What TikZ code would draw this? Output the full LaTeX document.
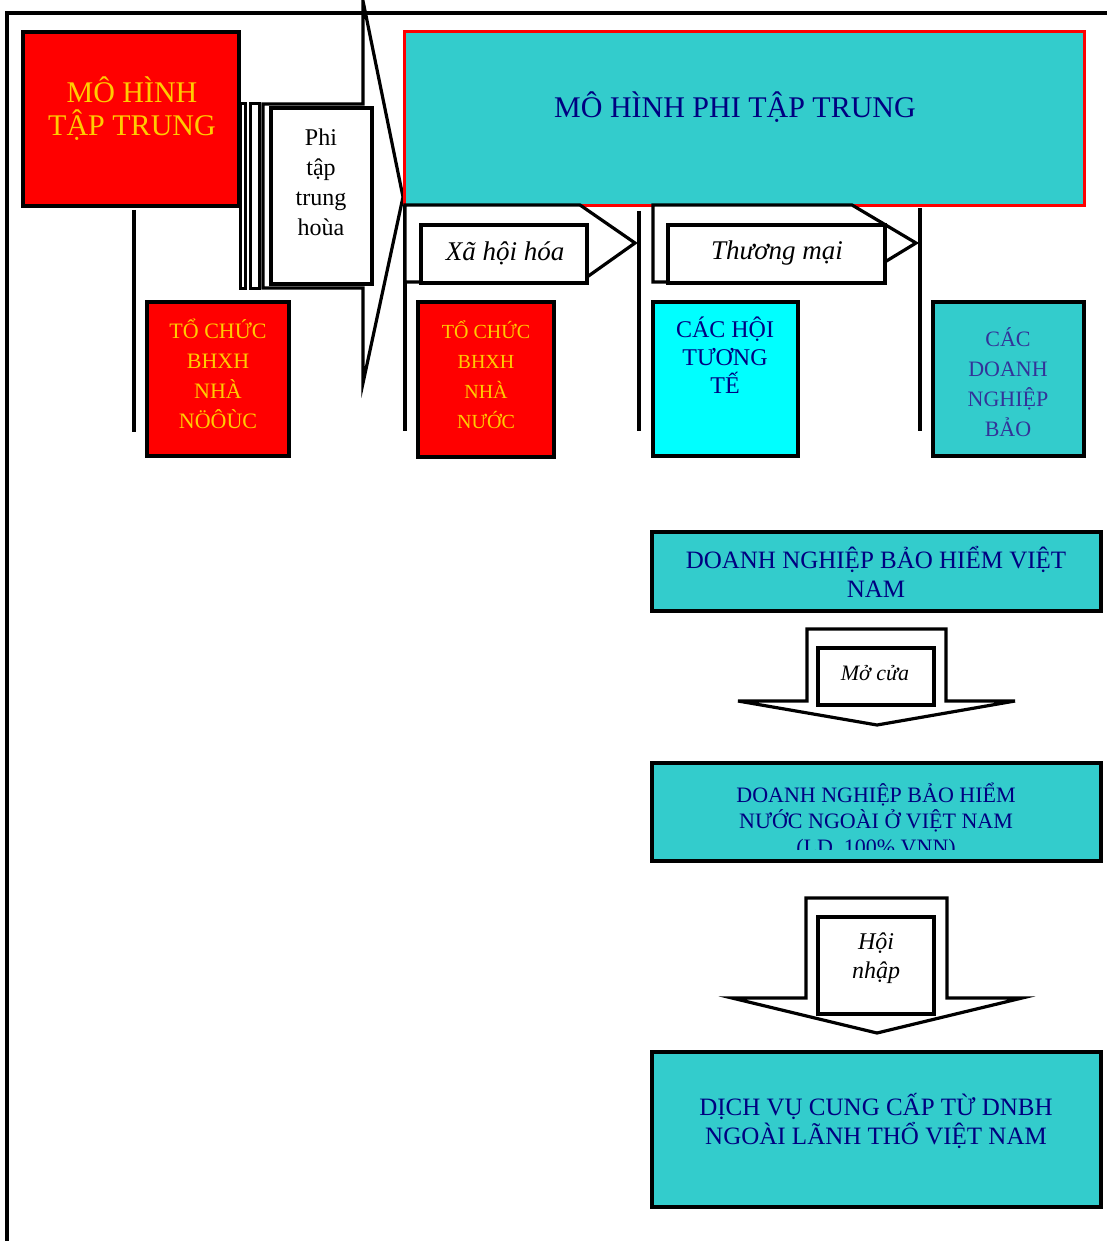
\documentclass[tikz,border=0pt]{standalone}
\usepackage{fontspec}
\setmainfont{Liberation Serif}
\definecolor{bred}{HTML}{FF0000}
\definecolor{gold}{HTML}{FFCC00}
\definecolor{teal1}{HTML}{33CCCC}
\definecolor{navy1}{HTML}{000080}
\definecolor{aqua1}{HTML}{00FFFF}
\definecolor{slate1}{HTML}{333399}
\begin{document}
\begin{tikzpicture}[x=1pt,y=-1pt,line join=miter,
  box/.style={draw=black,line width=3.5pt,inner sep=0pt,rectangle},
  arr/.style={draw=black,line width=3.2pt,fill=white},
  lbl/.style={inner sep=0pt,align=center},
  vline/.style={draw=black,line width=3.5pt}]
\useasboundingbox (0,0) rectangle (1107,1241);
\fill[white] (0,0) rectangle (1107,1241);
% outer frame
\coordinate (fA) at (1110,13);
\coordinate (fB) at (7,13);
\coordinate (fC) at (7,1245);
\draw[vline,line width=3.2pt] (fA) -- (fB) -- (fC);

% top-left red box
\node[box,fill=bred,minimum width=216pt,minimum height=174pt] (tt) at (131,119) {};
\node[lbl,text=gold,font=\fontsize{30}{33}\selectfont] (ttl) at (132,109) {MÔ HÌNH\\TẬP TRUNG};

% striped big arrow
\draw[arr,line width=3pt] (240,104) rectangle (245,288);
\draw[arr,line width=3pt] (250,104) rectangle (259,288);
\draw[arr] (263,104) -- (363,104) -- (363,1) -- (403,197) -- (363,383) -- (363,288) -- (263,288) -- cycle;
\node[box,fill=white,minimum width=101pt,minimum height=176pt] (phi) at (321.5,196) {};
\node[lbl,font=\fontsize{24}{30}\selectfont] (phil) at (321,182) {Phi\\tập\\trung\\hoùa};

% top cyan box
\node[box,draw=bred,line width=3pt,fill=teal1,minimum width=680pt,minimum height=174pt] (dec) at (744,119) {};
\node[lbl,text=navy1,font=\fontsize{30}{33}\selectfont] (decl) at (735,107) {MÔ HÌNH PHI TẬP TRUNG};

% vertical lines
\coordinate (v1a) at (134,210); \coordinate (v1b) at (134,432);
\coordinate (v2a) at (405,205); \coordinate (v2b) at (405,431);
\coordinate (v3a) at (639,211); \coordinate (v3b) at (639,431);
\coordinate (v4a) at (920,208); \coordinate (v4b) at (920,431);
\draw[vline] (v1a) -- (v1b);
\draw[vline] (v2a) -- (v2b);
\draw[vline] (v3a) -- (v3b);
\draw[vline] (v4a) -- (v4b);

% Xa hoi hoa arrow
\draw[arr] (405,205) -- (580,205) -- (635,243) -- (580,282) -- (405,282) -- cycle;
\node[box,fill=white,minimum width=166pt,minimum height=58pt] (xh) at (504,254) {};
\node[lbl,font=\fontsize{27}{30}\selectfont\itshape] (xhl) at (505,253) {Xã hội hóa};

% Thuong mai arrow
\draw[arr] (653,205) -- (852,205) -- (916,243) -- (852,282) -- (653,282) -- cycle;
\node[box,fill=white,minimum width=217pt,minimum height=58pt] (tm) at (776.5,254) {};
\node[lbl,font=\fontsize{27}{30}\selectfont\itshape] (tml) at (777,253) {Thương mại};

% lower boxes of the top row
\node[box,fill=bred,minimum width=142pt,minimum height=154pt] (r1) at (218,379) {};
\node[lbl,text=gold,font=\fontsize{22}{30}\selectfont] (r1l) at (218,374) {TỔ CHỨC\\BHXH\\NHÀ\\NÖÔÙC};
\node[box,fill=bred,minimum width=136pt,minimum height=155pt] (r2) at (486,379.5) {};
\node[lbl,text=gold,font=\fontsize{20}{30}\selectfont] (r2l) at (486,375) {TỔ CHỨC\\BHXH\\NHÀ\\NƯỚC};
\node[box,fill=aqua1,minimum width=145pt,minimum height=154pt] (c1) at (725.5,379) {};
\node[lbl,text=navy1,font=\fontsize{24}{28}\selectfont] (c1l) at (725,355) {CÁC HỘI\\TƯƠNG\\TẾ};
\node[box,fill=teal1,minimum width=151pt,minimum height=154pt] (c2) at (1008.5,379) {};
\node[lbl,text=slate1,font=\fontsize{22}{30}\selectfont] (c2l) at (1008,382) {CÁC\\DOANH\\NGHIỆP\\BẢO};

% right column
\node[box,fill=teal1,minimum width=449pt,minimum height=79pt] (vn) at (876.5,571.5) {};
\node[lbl,text=navy1,font=\fontsize{25}{29}\selectfont] (vnl) at (876,572) {DOANH NGHIỆP BẢO HIỂM VIỆT\\NAM};

\draw[arr] (807,629) -- (946,629) -- (946,701) -- (1015,701) -- (877,725) -- (738,701) -- (807,701) -- cycle;
\node[box,fill=white,minimum width=116pt,minimum height=57pt] (mc) at (876,676.5) {};
\node[lbl,font=\fontsize{22}{26}\selectfont\itshape] (mcl) at (875,673) {Mở cửa};

\node[box,fill=teal1,minimum width=449pt,minimum height=98pt] (fn) at (876.5,812) {};
\begin{scope}
\clip (652,763) rectangle (1101,849);
\node[lbl,text=navy1,font=\fontsize{22}{26}\selectfont] (fnl) at (876,821) {DOANH NGHIỆP BẢO HIỂM\\NƯỚC NGOÀI Ở VIỆT NAM\\(LD, 100\% VNN)};
\end{scope}

\draw[arr] (806,898) -- (947,898) -- (947,998) -- (1022,998) -- (877,1033) -- (732,998) -- (806,998) -- cycle;
\node[box,fill=white,minimum width=116pt,minimum height=97pt] (hn) at (876,965.5) {};
\node[lbl,font=\fontsize{24}{29}\selectfont\itshape] (hnl) at (876,958) {Hội\\nhập};

\node[box,fill=teal1,minimum width=449pt,minimum height=155pt] (dv) at (876.5,1129.5) {};
\node[lbl,text=navy1,font=\fontsize{25}{29}\selectfont] (dvl) at (876,1121) {DỊCH VỤ CUNG CẤP TỪ DNBH\\NGOÀI LÃNH THỔ VIỆT NAM};
\end{tikzpicture}
\end{document}
